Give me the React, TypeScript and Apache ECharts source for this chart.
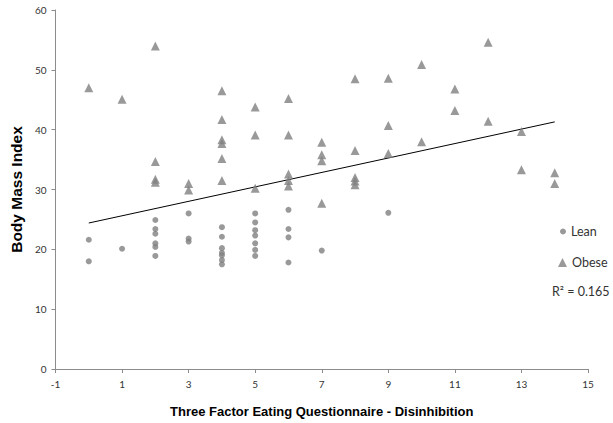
import React, { useEffect, useRef } from "react";
import * as echarts from "echarts";

const xTicks = [-1, 1, 3, 5, 7, 9, 11, 13, 15];
const yTicks = [0, 10, 20, 30, 40, 50, 60];

const leanX = [0, 0, 1, 2, 2, 2, 2, 2, 2, 3, 3, 3, 4, 4, 4, 4, 4, 4, 4, 5, 5, 5, 5, 5, 5, 5, 6, 6, 6, 6, 7, 9];
const leanY = [21.6, 18.0, 20.1, 24.9, 23.4, 22.6, 21.0, 20.4, 18.9, 26.0, 21.8, 21.3, 23.7, 22.1, 20.2, 19.4, 19.0, 18.2, 17.5, 26.0, 24.5, 23.2, 22.3, 21.0, 19.9, 18.9, 26.6, 23.4, 22.0, 17.8, 19.8, 26.1];

const obeseX = [0, 1, 2, 2, 2, 2, 3, 3, 4, 4, 4, 4, 4, 4, 5, 5, 5, 6, 6, 6, 6, 6, 7, 7, 7, 7, 8, 8, 8, 8, 8, 9, 9, 9, 10, 10, 11, 11, 12, 12, 13, 13, 14, 14];
const obeseY = [47.0, 45.1, 54.0, 34.7, 31.7, 31.2, 31.0, 29.9, 46.5, 41.7, 38.3, 37.7, 35.2, 31.5, 43.8, 39.1, 30.2, 45.2, 39.1, 32.6, 31.5, 30.6, 37.9, 35.8, 34.8, 27.7, 48.5, 36.5, 32.0, 31.4, 30.8, 48.6, 40.7, 36.0, 50.9, 38.0, 46.8, 43.2, 54.6, 41.4, 39.7, 33.3, 32.8, 31.0];

const trendX = [0, 14];
const trendY = [24.4, 41.3];

const rSquared = "R² = 0.165";

export default function App() {
  const ref = useRef<HTMLDivElement>(null);
  useEffect(() => {
    if (!ref.current) return;
    const chart = echarts.init(ref.current, null, { renderer: "svg" });
    const markerColor = "#7f7f7f";
    const tickFont = { fontFamily: "Lato", fontSize: 10, color: "#333333" };
    chart.setOption({
      animation: false,
      backgroundColor: "#ffffff",
      grid: { left: 43, top: 10, width: 545, height: 364, containLabel: false },
      xAxis: {
        type: "value",
        min: xTicks[0],
        max: xTicks[xTicks.length - 1],
        interval: 2,
        name: "Three Factor Eating Questionnaire - Disinhibition",
        nameLocation: "middle",
        nameGap: 36,
        nameTextStyle: { fontFamily: "Liberation Sans", fontWeight: "bold", fontSize: 13, color: "#000000" },
        axisLine: { onZero: false, lineStyle: { color: "#8c8c8c", width: 1 } },
        axisTick: { show: true, length: 4, lineStyle: { color: "#8c8c8c" } },
        axisLabel: { ...tickFont, margin: 10 },
        splitLine: { show: false },
      },
      yAxis: {
        type: "value",
        min: yTicks[0],
        max: yTicks[yTicks.length - 1],
        interval: 10,
        name: "Body Mass Index",
        nameLocation: "middle",
        nameGap: 28,
        nameTextStyle: { fontFamily: "Liberation Sans", fontWeight: "bold", fontSize: 15.5, color: "#000000" },
        axisLine: { show: true, onZero: false, lineStyle: { color: "#8c8c8c", width: 1 } },
        axisTick: { show: true, length: 4, lineStyle: { color: "#8c8c8c" } },
        axisLabel: { ...tickFont, margin: 9 },
        splitLine: { show: false },
      },
      legend: [
        {
          data: [{ name: "Lean", icon: "circle" }],
          left: 560,
          top: 225,
          padding: 0,
          itemWidth: 6,
          itemHeight: 6,
          itemGap: 6,
          textStyle: { fontFamily: "Lato", fontSize: 12.5, color: "#333333" },
        },
        {
          data: [{ name: "Obese", icon: "triangle" }],
          left: 558,
          top: 256,
          padding: 0,
          itemWidth: 9,
          itemHeight: 9,
          itemGap: 6,
          textStyle: { fontFamily: "Lato", fontSize: 12.5, color: "#333333" },
        },
      ],
      graphic: [
        {
          type: "text",
          left: 552,
          top: 285,
          style: { text: rSquared, fontFamily: "Lato", fontSize: 12.5, fill: "#333333" },
        },
      ],
      series: [
        {
          name: "Lean",
          type: "scatter",
          symbol: "circle",
          symbolSize: 6,
          itemStyle: { color: markerColor },
          data: leanX.map((x, i) => [x, leanY[i]]),
        },
        {
          name: "Obese",
          type: "scatter",
          symbol: "triangle",
          symbolSize: 9,
          itemStyle: { color: markerColor },
          data: obeseX.map((x, i) => [x, obeseY[i]]),
        },
        {
          name: "Trend",
          type: "line",
          showSymbol: false,
          symbol: "none",
          lineStyle: { color: "#000000", width: 1 },
          data: trendX.map((x, i) => [x, trendY[i]]),
          z: 1,
        },
      ],
    });
    return () => chart.dispose();
  }, []);
  return (
    <div
      ref={ref}
      style={{ position: "fixed", left: 0, top: 0, width: 613, height: 423, background: "#fff" }}
    />
  );
}
